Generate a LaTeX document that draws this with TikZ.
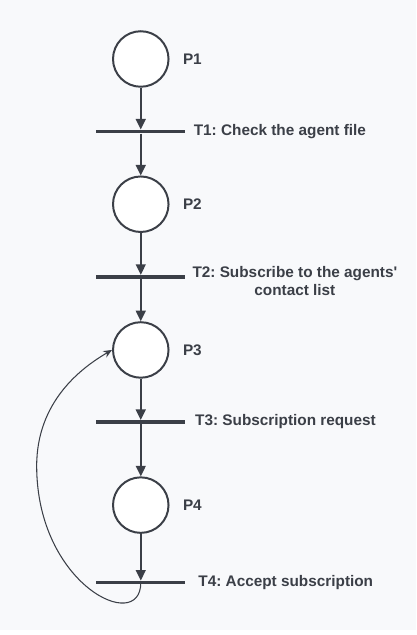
\documentclass[tikz,border=0pt]{standalone}
\usepackage{fontspec}
\setmainfont{Liberation Sans}
\usepackage{tikz}
\usetikzlibrary{arrows.meta,positioning}
\definecolor{ink}{HTML}{3B3F47}
\definecolor{paper}{HTML}{F8F9FB}
\frenchspacing

\begin{document}
\begin{tikzpicture}[x=0.75pt,y=-0.75pt,>={Triangle[length=8pt,width=7.5pt]},
  place/.style={draw=ink,line width=1.5pt,fill=white,circle,minimum size=42pt,inner sep=0pt},
  trans/.style={fill=ink,minimum width=67.5pt,minimum height=2.7pt,inner sep=0pt},
  lbl/.style={text=ink,font=\fontsize{11.6}{13.7}\selectfont\bfseries,inner sep=0pt},
  flow/.style={draw=ink,line width=1.3pt,->}]
  \fill[paper] (0,0) rectangle (420,635);

  % places
  \node[place] (P1) at (142,59.5) {};
  \node[place] (P2) at (142,206) {};
  \node[place] (P3) at (142,353) {};
  \node[place] (P4) at (142,509.5) {};
  \node[lbl,right=10pt of P1] {P1};
  \node[lbl,right=10pt of P2] {P2};
  \node[lbl,right=10pt of P3] {P3};
  \node[lbl,right=10pt of P4] {P4};

  % transitions
  \node[trans] (T1) at (142,132.7) {};
  \node[trans] (T2) at (142,279.3) {};
  \node[trans] (T3) at (142,425.7) {};
  \node[trans] (T4) at (142,587.7) {};
  \node[lbl,right=6pt of T1] {T1: Check the agent file};
  \node[lbl,align=center,right=5pt of T2,yshift=-3pt] {T2: Subscribe to the agents\textquotesingle\\contact list};
  \node[lbl,right=7pt of T3] {T3: Subscription request};
  \node[lbl,right=9.5pt of T4] {T4: Accept subscription};

  % arcs
  \draw[flow] (P1) -- (T1);
  \draw[flow] (T1) -- (P2);
  \draw[flow] (P2) -- (T2);
  \draw[flow] (T2) -- (P3);
  \draw[flow] (P3) -- (T3);
  \draw[flow] (T3) -- (P4);
  \draw[flow] (P4) -- (T4);

  % back to P3
  \draw[ink,line width=0.8pt,-{Stealth[length=6.5pt,width=5.5pt]}] (T4.center) .. controls (142,640) and (37,590) .. (37,470)
    .. controls (37,405) and (82,371) .. (P3.west);
\end{tikzpicture}
\end{document}
